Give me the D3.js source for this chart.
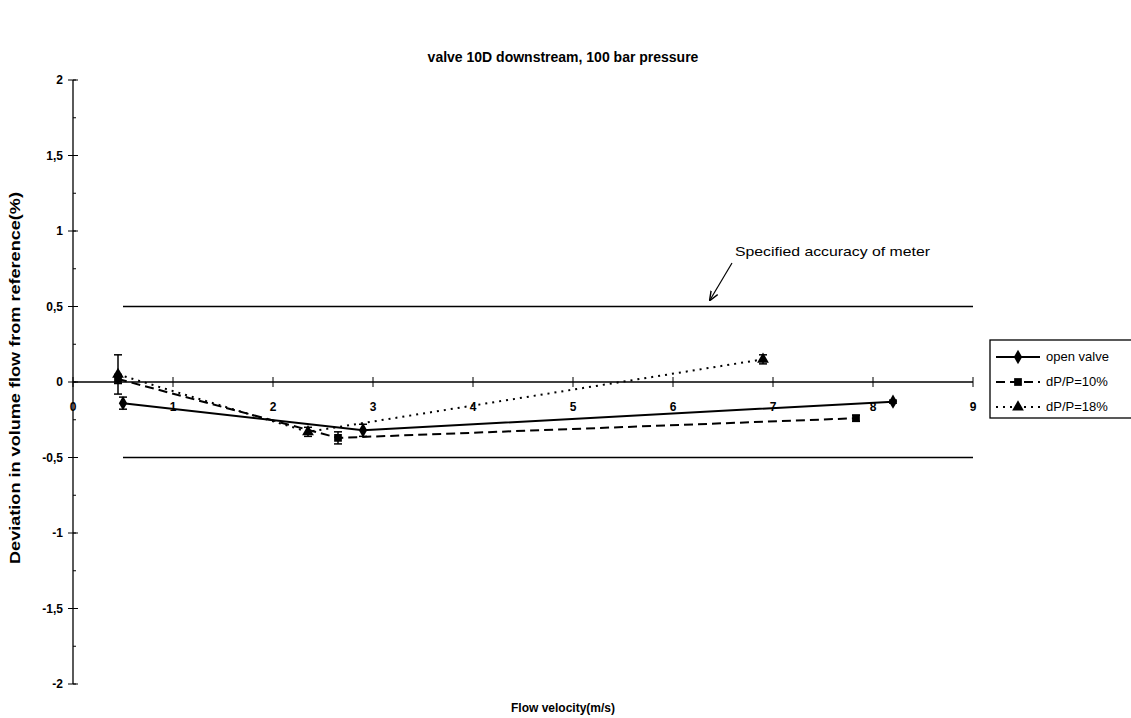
<!DOCTYPE html>
<html>
<head>
<meta charset="utf-8">
<script src="https://cdn.jsdelivr.net/npm/d3@7"></script>
<style>
body{margin:0;background:#fff;}
text{font-family:"Liberation Sans Narrow","Liberation Sans",Arial,sans-serif;font-weight:bold;fill:#000;}
text.normal{font-weight:normal;}
</style>
</head>
<body>
<svg id="chart" width="1131" height="718"></svg>
<script>
const title = "valve 10D downstream, 100 bar pressure";
const xLabel = "Flow velocity(m/s)";
const yLabel = "Deviation in volume flow from reference(%)";
const annotation = "Specified accuracy of meter";
const seriesNames = ["open valve", "dP/P=10%", "dP/P=18%"];
const openX = [0.5, 2.9, 8.2];
const openY = [-0.14, -0.32, -0.13];
const openErr = [0.04, 0.04, 0.01];
const p10X = [0.45, 2.65, 7.83];
const p10Y = [0.02, -0.37, -0.24];
const p10Err = [0.03, 0.04, 0.02];
const p18X = [0.45, 2.35, 6.9];
const p18Y = [0.05, -0.33, 0.15];
const p18Err = [0.13, 0.03, 0.03];
const limitX = [0.5, 9];
const limitUpper = [0.5, 0.5];
const limitLower = [-0.5, -0.5];
const xTicks = [0,1,2,3,4,5,6,7,8,9];
const yTicks = [-2,-1.5,-1,-0.5,0,0.5,1,1.5,2];
const yMinorTicks = d3.range(-2, 2.001, 0.25);

const svg = d3.select("#chart");
const x = d3.scaleLinear().domain([0,9]).range([73,973]);
const y = d3.scaleLinear().domain([-2,2]).range([684,80]);
const fmt = v => String(v).replace(".", ",");

// title
svg.append("text").attr("x",563).attr("y",62).attr("text-anchor","middle")
  .attr("font-size",14).text(title);

// y axis
svg.append("line").attr("x1",x(0)).attr("x2",x(0)).attr("y1",y(2)).attr("y2",y(-2)).attr("stroke","#000").attr("stroke-width",1.3);
svg.selectAll(".ymin").data(yMinorTicks).enter().append("line")
  .attr("x1",x(0)).attr("x2",x(0)+3).attr("y1",d=>y(d)).attr("y2",d=>y(d)).attr("stroke","#000");
svg.selectAll(".ymaj").data(yTicks).enter().append("line")
  .attr("x1",x(0)-5).attr("x2",x(0)+5).attr("y1",d=>y(d)).attr("y2",d=>y(d)).attr("stroke","#000");
svg.selectAll(".ylab").data(yTicks).enter().append("text")
  .attr("x",x(0)-10).attr("y",d=>y(d)+4).attr("text-anchor","end").attr("font-size",12).text(d=>fmt(d));

// x axis at y=0
svg.append("line").attr("x1",x(0)).attr("x2",x(9)).attr("y1",y(0)).attr("y2",y(0)).attr("stroke","#000").attr("stroke-width",1.3);
svg.selectAll(".xmaj").data(xTicks).enter().append("line")
  .attr("x1",d=>x(d)).attr("x2",d=>x(d)).attr("y1",y(0)-5).attr("y2",y(0)+5).attr("stroke","#000");
svg.selectAll(".xlab").data(xTicks).enter().append("text")
  .attr("x",d=>x(d)).attr("y",y(0)+29).attr("text-anchor","middle").attr("font-size",12).text(d=>d);

// limit lines
const limitLine = d3.line().x(d=>x(d[0])).y(d=>y(d[1]));
[limitUpper, limitLower].forEach(arr=>{
  svg.append("path").datum(limitX.map((v,i)=>[v,arr[i]])).attr("d",limitLine)
    .attr("fill","none").attr("stroke","#000").attr("stroke-width",1.3);
});

// annotation
svg.append("text").attr("class","normal").attr("x",735).attr("y",256).attr("font-size",13)
  .attr("textLength",195).attr("lengthAdjust","spacingAndGlyphs").text(annotation);
const defs = svg.append("defs");
defs.append("marker").attr("id","arr").attr("viewBox","0 0 10 10").attr("refX",9).attr("refY",5)
  .attr("markerWidth",8).attr("markerHeight",8).attr("orient","auto")
  .append("path").attr("d","M0,1 L10,5 L0,9").attr("fill","none").attr("stroke","#000").attr("stroke-width",1.5);
svg.append("line").attr("x1",732).attr("y1",263).attr("x2",710).attr("y2",300)
  .attr("stroke","#000").attr("stroke-width",1.2).attr("marker-end","url(#arr)");

// series
const series = [
  {name:seriesNames[0], xs:openX, ys:openY, err:openErr, dash:null, sym:d3.symbolDiamond},
  {name:seriesNames[1], xs:p10X, ys:p10Y, err:p10Err, dash:"9,5", sym:d3.symbolSquare},
  {name:seriesNames[2], xs:p18X, ys:p18Y, err:p18Err, dash:"2,5", sym:d3.symbolTriangle}
];
const line = d3.line().x(d=>x(d.x)).y(d=>y(d.y));
series.forEach(s=>{
  const pts = s.xs.map((v,i)=>({x:v,y:s.ys[i],e:s.err[i]}));
  svg.append("path").datum(pts).attr("d",line).attr("fill","none").attr("stroke","#000")
    .attr("stroke-width",2).attr("stroke-dasharray",s.dash);
  const g = svg.append("g");
  pts.forEach(p=>{
    g.append("line").attr("x1",x(p.x)).attr("x2",x(p.x)).attr("y1",y(p.y+p.e)).attr("y2",y(p.y-p.e)).attr("stroke","#000").attr("stroke-width",1.5);
    [p.y+p.e,p.y-p.e].forEach(v=>g.append("line").attr("x1",x(p.x)-4).attr("x2",x(p.x)+4).attr("y1",y(v)).attr("y2",y(v)).attr("stroke","#000").attr("stroke-width",1.5));
    g.append("path").attr("d",d3.symbol().type(s.sym).size(60)()).attr("transform",`translate(${x(p.x)},${y(p.y)})`).attr("fill","#000");
  });
});

// legend
const lg = svg.append("g");
lg.append("rect").attr("x",990).attr("y",340).attr("width",150).attr("height",78).attr("fill","#fff").attr("stroke","#000").attr("stroke-width",1.3);
series.forEach((s,i)=>{
  const yy = 357 + i*25;
  lg.append("line").attr("x1",996).attr("x2",1040).attr("y1",yy).attr("y2",yy).attr("stroke","#000").attr("stroke-width",2).attr("stroke-dasharray",s.dash);
  lg.append("path").attr("d",d3.symbol().type(s.sym).size(60)()).attr("transform",`translate(1018,${yy})`).attr("fill","#000");
  lg.append("text").attr("class","normal").attr("x",1046).attr("y",yy+4).attr("font-size",13).text(s.name);
});

// axis titles
svg.append("text").attr("x",563).attr("y",712).attr("text-anchor","middle").attr("font-size",12).text(xLabel);
svg.append("text").attr("transform","translate(20,378) rotate(-90)").attr("text-anchor","middle").attr("font-size",14)
  .attr("textLength",372).attr("lengthAdjust","spacingAndGlyphs").text(yLabel);
</script>
</body>
</html>
